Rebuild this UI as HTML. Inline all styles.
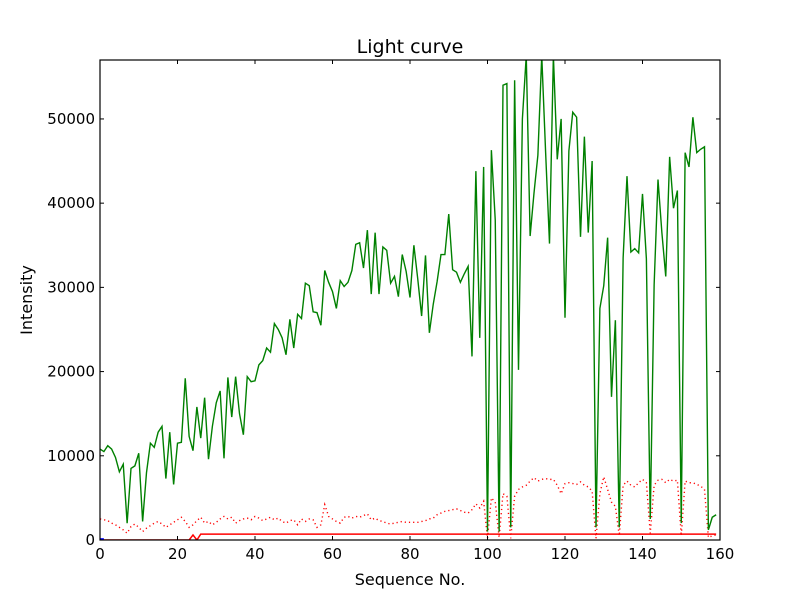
<!DOCTYPE html>
<html><head><meta charset="utf-8"><style>
body{margin:0;background:#fff;}
svg{display:block;font-family:"DejaVu Sans","Liberation Sans",sans-serif;}
</style></head><body>
<svg id="chart" width="800" height="600">
<rect x="0" y="0" width="800" height="600" fill="#fff"/>
<text x="410" y="53" font-size="19" text-anchor="middle">Light curve</text>
<text x="410" y="585" font-size="16" text-anchor="middle">Sequence No.</text>
<text x="32" y="300" font-size="16" text-anchor="middle" transform="rotate(-90 32 300)">Intensity</text>
<g id="series"></g>
<g id="axes"></g>
</svg>
<script>
const xTicks=[0,20,40,60,80,100,120,140,160];
const yTicks=[0,10000,20000,30000,40000,50000];
const green=[10.8,10.5,11.2,10.8,9.8,8.1,9.0,2.0,8.5,8.8,10.3,2.2,8.0,11.5,11.0,12.8,13.5,7.3,12.8,6.6,11.5,11.6,19.2,12.3,10.6,15.8,12.1,16.9,9.6,13.5,16.3,17.7,9.7,19.3,14.6,19.4,15.0,12.5,19.4,18.8,18.9,20.8,21.3,22.8,22.3,25.7,25.0,24.0,22.0,26.2,22.8,26.8,26.3,30.5,30.2,27.1,27.0,25.5,32.0,30.6,29.5,27.5,30.8,30.1,30.6,32.0,35.1,35.3,32.3,36.8,29.2,36.5,29.2,34.8,34.4,30.5,31.3,28.9,33.9,31.9,28.8,35.0,31.0,26.6,33.8,24.6,28.0,30.7,33.9,33.9,38.7,32.1,31.8,30.6,31.6,32.5,21.8,43.8,24.0,44.3,1.0,46.3,38.0,1.0,54.0,54.2,1.5,54.6,20.2,50.0,57.5,36.1,41.2,45.7,57.5,46.0,35.2,57.5,45.2,50.0,26.4,46.2,50.8,50.2,36.0,47.9,36.5,45.0,1.5,27.5,30.2,35.9,17.0,26.1,1.5,33.5,43.2,34.2,34.6,34.1,41.1,33.4,2.5,30.3,42.8,36.5,31.3,45.5,39.4,41.5,2.0,46.0,44.3,50.2,46.0,46.4,46.7,1.2,2.7,3.0];
const redDotted=[2.5,2.4,2.3,2.0,1.8,1.5,1.2,0.8,1.6,1.9,1.5,1.0,1.4,1.7,2.0,2.2,1.9,1.5,1.8,2.1,2.4,2.7,2.2,1.5,1.8,2.3,2.7,2.0,2.2,1.8,2.1,2.5,2.8,2.5,2.7,2.0,2.3,2.5,2.6,2.4,2.8,2.6,2.3,2.5,2.7,2.4,2.6,2.2,2.0,2.3,2.4,1.8,2.5,2.2,2.5,2.4,1.5,1.8,4.2,2.8,2.5,2.2,2.0,2.7,2.8,2.6,2.8,2.7,2.9,3.1,2.4,2.6,2.3,2.2,2.0,1.9,2.0,2.1,2.2,2.1,2.1,2.1,2.1,2.2,2.3,2.5,2.6,3.0,3.2,3.4,3.5,3.6,3.7,3.5,3.3,3.2,3.6,4.3,3.8,4.6,0.2,5.0,4.5,0.3,5.5,5.2,0.2,5.2,6.0,6.3,6.5,7.0,7.4,7.0,7.2,7.3,7.2,7.2,6.5,5.5,6.7,6.8,6.7,6.6,6.9,6.5,6.3,5.8,0.2,5.5,7.5,6.0,4.5,4.0,0.5,6.5,7.0,6.5,6.3,6.8,7.2,6.8,0.8,6.5,7.1,7.2,6.8,7.2,7.0,7.1,0.5,7.0,6.8,6.8,6.6,6.4,6.0,0.3,0.5,0.6];
const redSolid=[0,0,0,0,0,0,0,0,0,0,0,0,0,0,0,0,0,0,0,0,0,0,0,0,0.6,0].concat(new Array(134).fill(0.7));
const blue=[0.1,0.1];
const L=100,R=720,T=60,B=540,XMAX=160,YMAX=57000;
const sx=v=>L+(v/XMAX)*(R-L);
const sy=v=>B-(v/YMAX)*(B-T);
const NS="http://www.w3.org/2000/svg";
function mk(tag,attrs,parent){const e=document.createElementNS(NS,tag);for(const k in attrs)e.setAttribute(k,attrs[k]);parent.appendChild(e);return e;}
const series=document.getElementById('series');
const axes=document.getElementById('axes');
const clip=mk('clipPath',{id:'pc'},series);mk('rect',{x:L,y:T,width:R-L,height:B-T},clip);
function line(arr,color,dash,name,w){
  const pts=arr.map((v,i)=>sx(i).toFixed(2)+','+sy(v*1000).toFixed(2)).join(' ');
  const p=mk('polyline',{points:pts,fill:'none',stroke:color,'stroke-width':w||1.4,'clip-path':'url(#pc)'},series);
  if(dash)p.setAttribute('stroke-dasharray',dash);
  
  
}
line(redSolid,'#ff0000',null,'red-baseline-line',1.5);
line(blue,'#0000ff',null,'blue-line',2);
line(redDotted,'#ff0000','1.2,3','red-dotted-line',1.4);
line(green,'#008000',null,'green-intensity-line',1.4);
mk('rect',{x:L,y:T,width:R-L,height:B-T,fill:'none',stroke:'#000','stroke-width':1.2},axes);
xTicks.forEach(v=>{
  const x=sx(v);
  mk('line',{x1:x,x2:x,y1:B,y2:B-4,stroke:'#000'},axes);
  mk('line',{x1:x,x2:x,y1:T,y2:T+4,stroke:'#000'},axes);
  const t=mk('text',{x:x,y:B+19,'font-size':15,'text-anchor':'middle'},axes);
  t.textContent=v;
  
  
});
yTicks.forEach(v=>{
  const y=sy(v);
  mk('line',{x1:L,x2:L+4,y1:y,y2:y,stroke:'#000'},axes);
  mk('line',{x1:R,x2:R-4,y1:y,y2:y,stroke:'#000'},axes);
  const t=mk('text',{x:L-5,y:y+5,'font-size':15,'text-anchor':'end'},axes);
  t.textContent=v;
  
  
});
</script>
</body></html>
